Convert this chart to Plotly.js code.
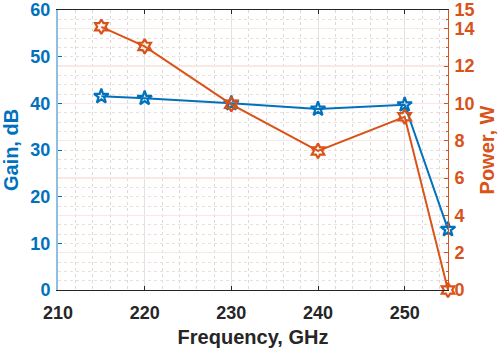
<!DOCTYPE html>
<html><head><meta charset="utf-8">
<script src="https://cdn.plot.ly/plotly-3.0.1.min.js"></script>
<style>html,body{margin:0;padding:0;background:#fff}#c{width:499px;height:354px}</style>
</head><body><div id="c"></div>
<script>
const freq = [215, 220, 230, 240, 250, 255];
const gain = [41.5, 41.1, 40.0, 38.8, 39.7, 13.0];
const power = [14.1, 13.05, 9.95, 7.45, 9.28, 0];
const xTicks = [210, 220, 230, 240, 250];
const yTicks = [0, 10, 20, 30, 40, 50, 60];
const y2Ticks = [0, 2, 4, 6, 8, 10, 12, 14, 15];

const blue = '#0072BD', orange = '#D95319', dark = '#262626';
const fam = 'Liberation Sans, Arial, sans-serif';

const traces = [
  {x: freq, y: gain, type: 'scatter', mode: 'lines+markers', yaxis: 'y', cliponaxis: false,
   line: {color: blue, width: 2}, marker: {symbol: 'star-open', size: 11, color: blue, line: {width: 2.2, color: blue}}},
  {x: freq, y: power, type: 'scatter', mode: 'lines+markers', yaxis: 'y2', cliponaxis: false,
   line: {color: orange, width: 2}, marker: {symbol: 'hexagram-open', size: 11, color: orange, line: {width: 2.2, color: orange}}}
];

const layout = {
  width: 499, height: 354,
  margin: {l: 58, r: 51, t: 10, b: 64},
  paper_bgcolor: '#fff', plot_bgcolor: '#fff',
  showlegend: false,
  font: {family: fam, size: 18, color: dark},
  xaxis: {range: [210, 255], tickvals: xTicks, ticks: 'inside', ticklen: 4, tickcolor: dark,
    showline: true, linecolor: dark, linewidth: 1, mirror: 'ticks',
    showgrid: true, gridcolor: '#e2e2e2', gridwidth: 1, zeroline: false,
    minor: {dtick: 2, showgrid: true, gridcolor: '#dadada', griddash: 'dot', gridwidth: 1, ticks: ''},
    ticklabelstandoff: 6,
    tickfont: {family: fam, size: 18, color: dark, weight: 'bold'},
    title: {text: 'Frequency, GHz', font: {family: fam, size: 20, color: dark, weight: 'bold'}, standoff: 8}},
  yaxis: {range: [0, 60], tickvals: yTicks, ticks: 'inside', ticklen: 4, tickcolor: blue,
    showline: true, linecolor: '#8fc0e3', linewidth: 2, zeroline: false,
    showgrid: false,
    ticklabelstandoff: 2,
    tickfont: {family: fam, size: 18, color: blue, weight: 'bold'},
    title: {text: 'Gain, dB', font: {family: fam, size: 20, color: blue, weight: 'bold'}, standoff: 6}},
  yaxis2: {range: [0, 15], tickvals: y2Ticks, overlaying: 'y', side: 'right', ticks: 'inside', ticklen: 4, tickcolor: orange,
    showline: true, linecolor: orange, linewidth: 1, zeroline: false,
    showgrid: true, gridcolor: '#f7e9e2', gridwidth: 1.5,
    minor: {dtick: 0.5, showgrid: true, gridcolor: '#f3ddd2', griddash: 'dot', gridwidth: 1, ticks: 'inside', ticklen: 2, tickcolor: orange},
    ticklabelstandoff: 2,
    tickfont: {family: fam, size: 18, color: orange, weight: 'bold'},
    title: {text: 'Power, W', font: {family: fam, size: 20, color: orange, weight: 'bold'}, standoff: 6}}
};
Plotly.newPlot('c', traces, layout, {displayModeBar: false, staticPlot: true});
</script></body></html>
